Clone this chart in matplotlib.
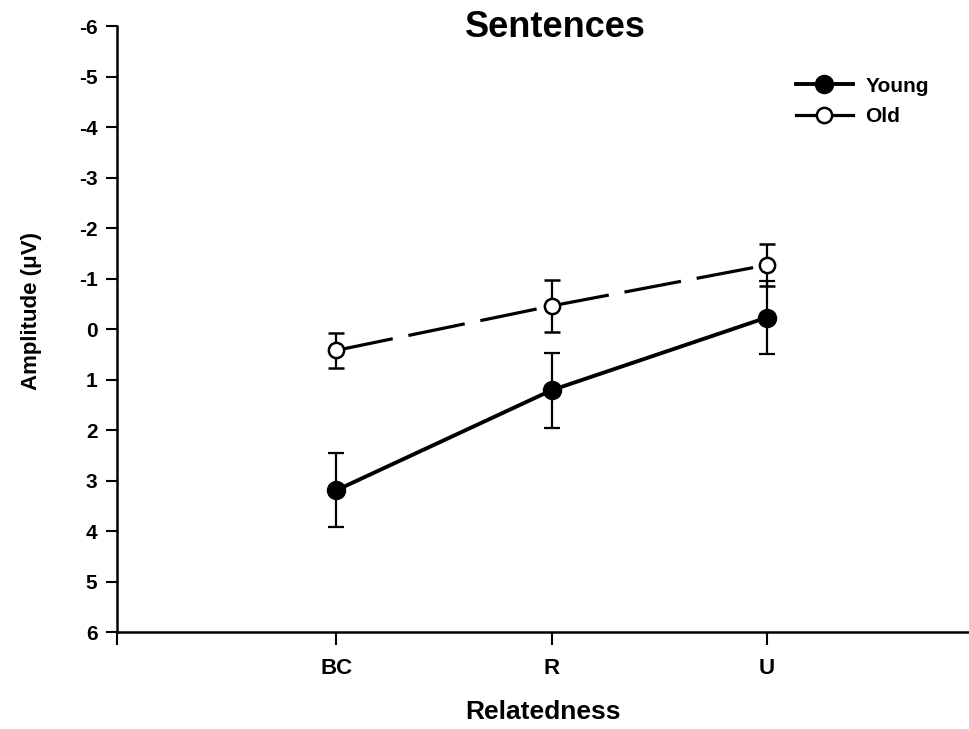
import numpy as np
import matplotlib.pyplot as plt
from matplotlib.lines import Line2D

plt.rcParams['font.family'] = ['Liberation Sans', 'DejaVu Sans']
plt.rcParams['font.weight'] = 'bold'
plt.rcParams['axes.unicode_minus'] = False

conditions = ['BC', 'R', 'U']
young_amp = [3.19, 1.21, -0.23]
young_err = [0.73, 0.74, 0.73]
old_amp = [0.42, -0.46, -1.27]
old_err = [0.35, 0.52, 0.42]

x = np.arange(1, len(conditions) + 1)
x_lo, x_hi = -0.02, 3.94

fig = plt.figure(figsize=(9.69, 7.29), dpi=100)
ax = fig.add_axes([0.1207, 0.133, 0.8793, 0.831])

ax.errorbar(x, young_amp, yerr=young_err, color='black', lw=2.8, marker='o',
            ms=13, mfc='black', mec='black', capsize=5.7, elinewidth=1.6,
            capthick=1.6, zorder=3)
ax.errorbar(x, old_amp, yerr=old_err, color='black', lw=2.3, ls=(0, (18, 5)),
            marker='o', ms=11, mfc='white', mec='black', mew=1.8, capsize=5.7,
            elinewidth=1.6, capthick=1.6, zorder=4)

ax.set_xlim(x_lo, x_hi)
ax.set_ylim(6, -6)
ax.set_yticks(np.arange(-6, 7, 1))
ax.set_xticks([x_lo] + list(x))
ax.set_xticklabels([''] + conditions)
ax.tick_params(axis='y', direction='out', length=8, width=1.5, labelsize=15, pad=6)
ax.tick_params(axis='x', direction='out', length=9, width=1.5, labelsize=16, pad=10)
for lbl in ax.get_xticklabels() + ax.get_yticklabels():
    lbl.set_fontweight('bold')

for side in ['top', 'right']:
    ax.spines[side].set_visible(False)
ax.spines['left'].set_linewidth(1.8)
ax.spines['bottom'].set_linewidth(1.8)

ax.set_xlabel('Relatedness', fontsize=19, fontweight='bold', va='top')
ax.xaxis.set_label_coords(0.5, -0.113)
ax.set_ylabel('Amplitude (\u03bcV)', fontsize=16, fontweight='bold')
ax.yaxis.set_label_coords(-0.088, 0.53)
fig.text(0.573, 0.962, 'Sentences', ha='center', va='center',
         fontsize=26, fontweight='bold')

handles = [
    Line2D([], [], color='black', lw=2.8, marker='o', ms=13, mfc='black'),
    Line2D([], [], color='black', lw=2.3, marker='o', ms=11, mfc='white', mew=1.8),
]
leg = fig.legend(handles, ['Young', 'Old'], loc='upper left',
                 bbox_to_anchor=(0.821, 0.895), frameon=False, fontsize=15,
                 handlelength=2.75, handletextpad=0.6, labelspacing=0.55,
                 borderpad=0, borderaxespad=0)
for t in leg.get_texts():
    t.set_fontweight('bold')

fig.savefig('out.png', dpi=100)
